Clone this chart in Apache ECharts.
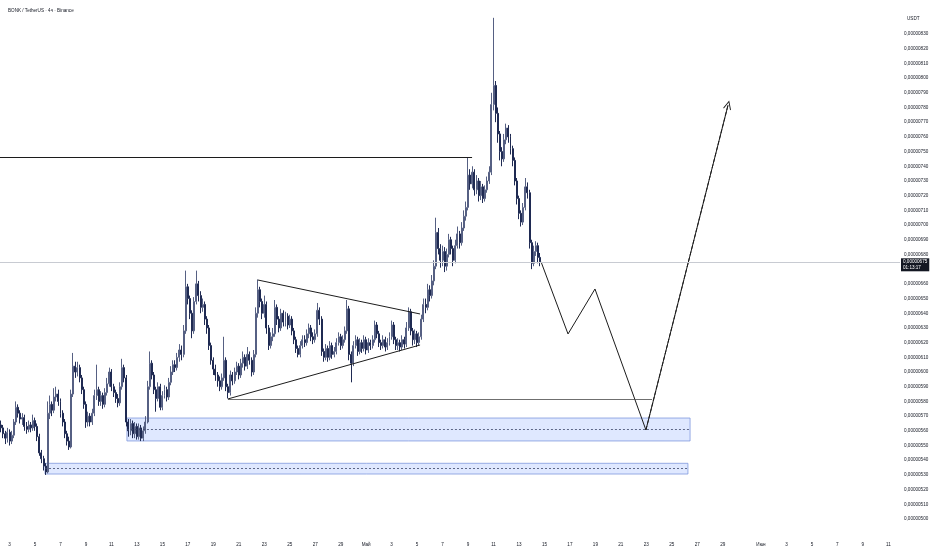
<!DOCTYPE html>
<html>
<head>
<meta charset="utf-8">
<script src="https://cdn.jsdelivr.net/npm/echarts/dist/echarts.min.js"></script>
<style>
html, body { margin: 0; padding: 0; background: #fff; }
#chart { width: 932px; height: 550px; }
</style>
</head>
<body>
<div id="chart"></div>
<script>
// prices are in units of 1e-8 USDT (575 = 0,00000575)
const firstOpen = 564;
const closes = [
    562,558,555,559,553,557,566,576,572,568,
    569,563,561,564,562,567,563,556,545,541,
    536,532,572,578,574,583,585,580,572,566,
    558,553,549,585,604,600,603,596,588,578,
    566,570,566,572,584,588,580,584,578,586,
    592,600,590,586,582,579,590,603,596,566,
    560,565,558,563,556,562,555,560,566,590,
    606,598,588,582,590,576,584,588,583,593,
    600,605,603,610,615,612,628,658,650,640,
    628,648,660,652,644,646,636,630,618,608,
    602,598,594,590,596,608,590,586,598,594,
    600,604,598,606,610,604,612,608,600,612,
    640,656,648,640,646,630,618,624,626,644,
    636,630,640,634,638,632,636,628,622,616,
    612,618,622,620,626,630,624,622,626,642,
    636,614,610,616,610,618,612,614,620,624,
    618,622,628,643,612,606,618,622,614,620,
    616,622,615,620,618,622,632,626,620,618,
    622,617,620,624,632,622,618,620,617,622,
    619,630,641,628,622,626,620,624,636,646,
    644,656,652,662,672,695,684,676,682,672,
    680,690,684,676,686,694,688,698,706,712,
    734,728,736,724,730,720,726,718,724,730,
    736,782,795,776,762,750,745,758,766,760,
    752,744,730,718,708,702,712,726,722,688,
    674,682,686,678,675
];
const highs = [
    567,564,560,562,561,560,568,580,578,574,
    572,571,566,567,566,571,569,565,558,547,
    543,538,580,584,580,589,590,588,582,574,
    568,560,556,588,613,607,607,605,598,590,
    580,573,572,575,588,605,590,587,586,589,
    596,603,602,592,588,585,593,609,605,598,
    568,568,567,566,565,565,564,563,570,594,
    614,608,600,590,593,592,587,591,590,596,
    604,608,608,613,619,618,632,669,660,652,
    642,651,669,662,655,650,648,638,632,620,
    610,605,600,597,599,624,610,592,601,600,
    603,607,606,609,614,612,617,614,610,615,
    644,663,658,650,652,648,632,627,630,649,
    646,638,643,642,641,640,639,638,630,624,
    618,621,625,625,629,633,632,627,629,647,
    644,638,616,619,618,621,620,617,623,627,
    626,625,631,649,645,614,621,625,624,623,
    622,625,624,623,622,625,635,634,628,622,
    625,624,623,627,635,634,624,623,622,625,
    624,634,644,643,630,629,628,627,639,650,
    650,660,659,666,676,705,698,687,686,685,
    684,694,692,686,690,699,696,702,710,716,
    746,738,740,738,734,732,730,728,727,733,
    740,790,841,798,780,764,753,762,769,768,
    762,754,746,732,720,710,715,732,729,724,
    690,686,689,688,681
];
const lows = [
    559,555,551,552,550,551,555,564,569,565,
    564,560,558,559,559,560,560,553,543,538,
    533,530,531,568,570,572,580,577,569,563,
    555,550,547,548,583,596,597,593,585,575,
    562,563,563,564,570,581,577,577,575,576,
    584,590,587,583,579,576,577,588,593,563,
    556,557,555,555,554,554,553,553,558,565,
    588,595,585,573,580,574,574,582,580,581,
    591,598,600,601,607,608,610,626,646,636,
    623,626,646,648,640,641,632,626,615,605,
    598,594,590,587,588,594,587,582,584,591,
    592,598,595,596,603,601,602,605,597,598,
    610,637,644,636,637,626,615,616,621,624,
    632,627,628,631,631,629,630,625,619,613,
    610,610,616,617,618,623,621,619,620,624,
    632,611,607,608,607,608,609,610,612,618,
    615,616,620,626,608,593,604,616,611,612,
    613,614,612,613,615,616,620,623,617,615,
    616,614,615,618,622,619,615,615,614,615,
    616,617,628,625,618,619,617,618,622,634,
    640,642,648,650,659,670,680,671,672,668,
    669,678,680,672,674,684,684,686,696,703,
    710,724,725,720,721,716,717,715,716,722,
    728,734,778,770,756,744,740,743,755,756,
    748,740,727,714,704,699,700,710,718,684,
    670,672,679,674,672
];
const lastPrice = 675;
const lastPriceTimer = '01:13:17';

// drawings, [bar position, price]
const resistanceLine = [[0, 746], [222.4, 746]];
const triangleUpper = [[121.5, 662.6], [197.9, 639.5]];
const triangleLower = [[107.4, 581.7], [197.9, 618.4]];
const supportLine = [[107.4, 581.7], [307.2, 581.7]];
const upperZone = [59.8, 325.1, 553.1, 568.7, 561.1];   // from, to, bottom, top, mid
const lowerZone = [21.2, 324.1, 530.6, 537.9, 534.5];
const projection = [[254.9, 675], [267.6, 625.9], [280.3, 656.5], [304.3, 560.6], [343, 781.7]];

// time axis: 4h bars from 2 Apr 08:00
const barCount = 424;
const startTime = Date.UTC(2025, 3, 2, 8);
const monthNames = ['Янв', 'Фев', 'Мар', 'Апр', 'Май', 'Июн', 'Июл', 'Авг', 'Сен', 'Окт', 'Ноя', 'Дек'];
const categories = [];
for (let i = 0; i < barCount; i++) {
    categories.push(String(startTime + i * 4 * 3600 * 1000));
}

const candles = closes.map((c, i) => [i === 0 ? firstOpen : closes[i - 1], c, lows[i], highs[i]]);

const FONT = 'Liberation Sans';
const TXT = '#131722';

const chart = echarts.init(document.getElementById('chart'));

function seg(p, style) {
    return [{ coord: p[0], lineStyle: style }, { coord: p[1] }];
}

const option = {
    animation: false,
    backgroundColor: '#ffffff',
    textStyle: { fontFamily: FONT },
    title: {
        text: 'BONK / TetherUS · 4ч · Binance',
        left: 3,
        top: 3,
        textStyle: { fontSize: 4.6, fontWeight: 'normal', color: TXT, fontFamily: FONT }
    },
    graphic: [{
        type: 'text',
        left: 907,
        top: 16,
        style: { text: 'USDT', fontSize: 4.6, fill: TXT, fontFamily: FONT }
    }],
    grid: { left: 0, right: 32, top: 4.6, bottom: 16.3 },
    xAxis: [
        {
            type: 'category',
            data: categories,
            boundaryGap: true,
            axisLine: { show: false },
            axisTick: { show: false },
            splitLine: { show: false },
            axisLabel: {
                fontSize: 4.6,
                color: TXT,
                margin: 9,
                interval: function (index, value) {
                    const d = new Date(+value);
                    const day = d.getUTCDate();
                    return d.getUTCHours() === 0 && day % 2 === 1 && day !== 31;
                },
                formatter: function (value) {
                    const d = new Date(+value);
                    const day = d.getUTCDate();
                    return day === 1 ? monthNames[d.getUTCMonth()] : String(day);
                }
            }
        },
        { type: 'value', min: 0, max: barCount, show: false }
    ],
    yAxis: {
        type: 'value',
        position: 'right',
        min: 490,
        max: 850,
        interval: 10,
        axisLine: { show: false },
        axisTick: { show: false },
        splitLine: { show: false },
        axisLabel: {
            fontSize: 4.6,
            color: TXT,
            margin: 4,
            formatter: function (v) {
                if (v < 500 || v > 830) return '';
                return (v / 1e8).toFixed(8).replace('.', ',');
            }
        }
    },
    series: [
        {
            type: 'candlestick',
            xAxisIndex: 0,
            data: candles,
            barWidth: '70%',
            itemStyle: {
                color: '#ffffff',
                color0: '#1f2a52',
                borderColor: '#566083',
                borderColor0: '#1f2a52',
                borderWidth: 1
            },
            markLine: {
                silent: true,
                symbol: 'none',
                data: [{
                    yAxis: lastPrice,
                    lineStyle: { color: '#c8cbd2', width: 1, type: 'solid' },
                    label: {
                        show: true,
                        position: 'end',
                        distance: 1,
                        offset: [0, 3],
                        formatter: (lastPrice / 1e8).toFixed(8).replace('.', ',') + '\n' + lastPriceTimer,
                        backgroundColor: '#131722',
                        color: '#ffffff',
                        fontSize: 4.6,
                        lineHeight: 5.5,
                        padding: [1, 2]
                    }
                }]
            }
        },
        {
            type: 'line',
            xAxisIndex: 1,
            data: projection,
            showSymbol: false,
            symbol: 'none',
            silent: true,
            lineStyle: { color: '#1c1c1c', width: 1 },
            markArea: {
                silent: true,
                data: [
                    [{ coord: [upperZone[0], upperZone[3]] }, { coord: [upperZone[1], upperZone[2]] }],
                    [{ coord: [lowerZone[0], lowerZone[3]] }, { coord: [lowerZone[1], lowerZone[2]] }]
                ],
                itemStyle: { color: 'rgba(41,98,255,0.15)', borderColor: '#7f98dd', borderWidth: 0.8 }
            },
            markLine: {
                silent: true,
                symbol: 'none',
                label: { show: false },
                data: [
                    seg(resistanceLine, { color: '#1c1c1c', width: 1, type: 'solid' }),
                    seg(triangleUpper, { color: '#1c1c1c', width: 1, type: 'solid' }),
                    seg(triangleLower, { color: '#1c1c1c', width: 1, type: 'solid' }),
                    seg(supportLine, { color: '#4a4a4a', width: 0.8, type: 'solid' }),
                    seg([[upperZone[0], upperZone[4]], [upperZone[1], upperZone[4]]], { color: '#3b4668', width: 0.8, type: [2, 2] }),
                    seg([[lowerZone[0], lowerZone[4]], [lowerZone[1], lowerZone[4]]], { color: '#3b4668', width: 0.8, type: [2, 2] }),
                    [
                        { coord: projection[3], symbol: 'none', lineStyle: { color: '#1c1c1c', width: 1 } },
                        { coord: projection[4], symbol: 'path://M0,0 L5,9 L4,9.6 L0,2.2 L-4,9.6 L-5,9 Z', symbolSize: [8, 9] }
                    ]
                ]
            }
        }
    ]
};

chart.setOption(option);
</script>
</body>
</html>
